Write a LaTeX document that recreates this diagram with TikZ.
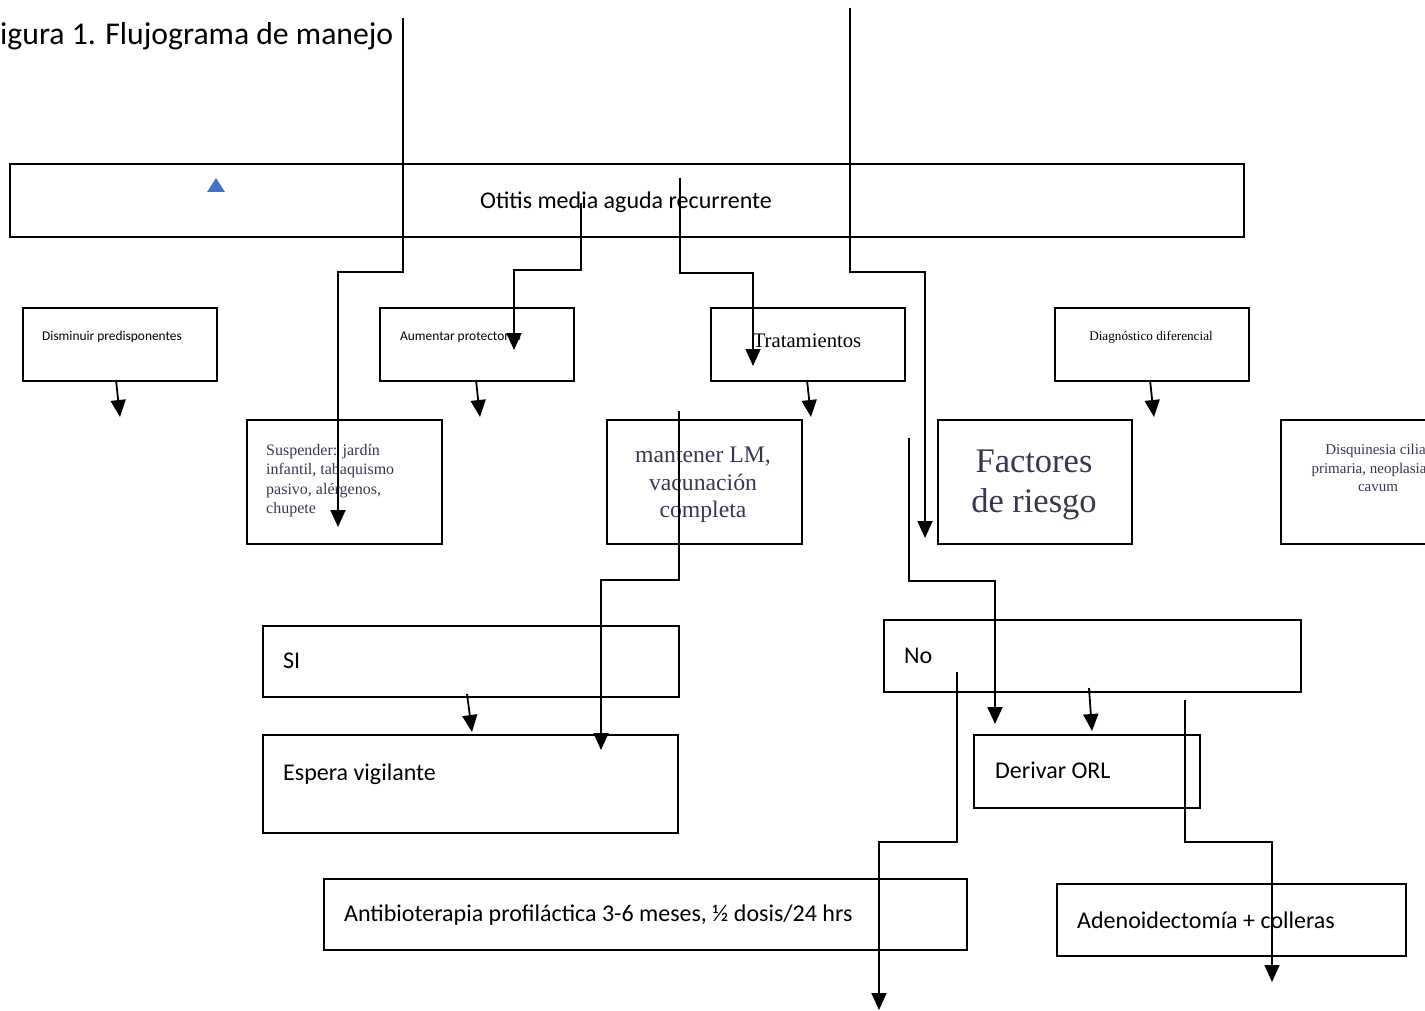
\documentclass[tikz,border=0pt]{standalone}
\usepackage{fontspec}
\setmainfont{Liberation Serif}
\newfontfamily\calfont{Carlito}
\usetikzlibrary{arrows.meta}
\definecolor{tx}{RGB}{62,52,82}
\definecolor{tri}{RGB}{68,114,196}
\newcommand\bx[5]{\node[box, minimum width={#4-#2}, minimum height={#5-#3}] (#1) at (#2,#3) {};}
\newcommand\fs[1]{\fontsize{#1}{#1}\selectfont}
\begin{document}
\begin{tikzpicture}[x=1pt,y=-1pt,
  box/.style={draw, line width=1.8pt, inner sep=0pt, anchor=north west},
  ctx/.style={inner sep=0pt, anchor=base west, font=\calfont\fs{24}},
  ttx/.style={inner sep=0pt, text=tx},
  arr/.style={line width=1.8pt, -{Triangle[width=15pt,length=17pt]}},
  ln/.style={line width=1.8pt}]
\useasboundingbox (0,0) rectangle (1425,1011);
% boxes
\bx{main}{9}{163}{1243}{236}
\bx{dism}{22}{307}{216}{380}
\bx{aum}{379}{307}{573}{380}
\bx{trat}{710}{307}{904}{380}
\bx{diag}{1054}{307}{1248}{380}
\bx{susp}{246}{419}{441}{543}
\bx{mant}{606}{419}{801}{543}
\bx{fact}{937}{419}{1131}{543}
\bx{disq}{1280}{419}{1475}{543}
\bx{si}{262}{625}{678}{696}
\bx{esp}{262}{734}{677}{832}
\bx{no}{883}{619}{1300}{691}
\bx{der}{973}{734}{1199}{807}
\bx{anti}{323}{878}{966}{949}
\bx{adeno}{1056}{883}{1405}{955}
% texts
\node[ctx, font=\calfont\fs{31.7}] (title) at (0,45) {igura 1. Flujograma de manejo};
\node[ctx, anchor=base] (tmain) at (626,209) {Otitis media aguda recurrente};
\fill[tri] (207,192) -- (225,192) -- (216,178) -- cycle;
\node[ctx, font=\calfont\fs{13.4}] (tdism) at (42,340) {Disminuir predisponentes};
\node[ctx, font=\calfont\fs{13.4}] (taum) at (400,340) {Aumentar protectores};
\node[inner sep=0pt, anchor=base, font=\fs{20.7}] (ttrat) at (807,347) {Tratamientos};
\node[inner sep=0pt, anchor=base, font=\fs{13.2}] (tdiag) at (1151,340) {Diagnóstico diferencial};
\node[ttx, anchor=north west, align=left, font=\fontsize{16}{19.5}\selectfont] (tsusp) at (266,444) {Suspender: jardín\\infantil, tabaquismo\\pasivo, alérgenos,\\chupete};
\node[ttx, anchor=north, align=center, font=\fontsize{23.7}{27.5}\selectfont] (tmant) at (703,447) {mantener LM,\\vacunación\\completa};
\node[ttx, anchor=north, align=center, font=\fontsize{34.5}{39.5}\selectfont] (tfact) at (1034,450) {Factores\\de riesgo};
\node[ttx, anchor=north, align=center, font=\fontsize{15}{18.5}\selectfont] (tdisq) at (1378,444) {Disquinesia ciliar\\primaria, neoplasia\hphantom{ de}\\cavum};
\node[ctx] (tsi) at (283,668) {SI};
\node[ctx] (tesp) at (283,780) {Espera vigilante};
\node[ctx] (tno) at (904,663) {No};
\node[ctx] (tder) at (995,778) {Derivar ORL};
\node[ctx] (tanti) at (344,921) {Antibioterapia profiláctica 3-6 meses, ½ dosis/24 hrs};
\node[ctx] (tadeno) at (1077,928) {Adenoidectomía + colleras};
% connector coordinates
\coordinate (a1s) at (403,18);  \coordinate (a1m) at (338,272); \coordinate (a1e) at (338,527);
\coordinate (a2s) at (581,203); \coordinate (a2m) at (514,270); \coordinate (a2e) at (514,350);
\coordinate (a3s) at (680,178); \coordinate (a3m) at (753,273); \coordinate (a3e) at (753,366);
\coordinate (a4s) at (850,8);   \coordinate (a4m) at (925,272); \coordinate (a4e) at (925,538);
\coordinate (a5s) at (116,380); \coordinate (a5e) at (120,417);
\coordinate (a6s) at (476,380); \coordinate (a6e) at (480,417);
\coordinate (a7s) at (807,380); \coordinate (a7e) at (811,417);
\coordinate (a8s) at (1150,380); \coordinate (a8e) at (1154,417);
\coordinate (a9s) at (679,411); \coordinate (a9m) at (601,580); \coordinate (a9e) at (601,750);
\coordinate (a10s) at (467,694); \coordinate (a10e) at (472,732);
\coordinate (a11s) at (909,438); \coordinate (a11m) at (995,581); \coordinate (a11e) at (995,724);
\coordinate (a12s) at (1089,688); \coordinate (a12e) at (1092,731);
\coordinate (a13s) at (957,672); \coordinate (a13m) at (879,842); \coordinate (a13e) at (879,1010);
\coordinate (a14s) at (1185,700); \coordinate (a14m) at (1272,842); \coordinate (a14e) at (1272,982);
% connectors
\draw[arr] (a1s) |- (a1m) -- (a1e);
\draw[arr] (a2s) |- (a2m) -- (a2e);
\draw[arr] (a3s) |- (a3m) -- (a3e);
\draw[arr] (a4s) |- (a4m) -- (a4e);
\draw[arr] (a5s) -- (a5e);
\draw[arr] (a6s) -- (a6e);
\draw[arr] (a7s) -- (a7e);
\draw[arr] (a8s) -- (a8e);
\draw[arr] (a9s) |- (a9m) -- (a9e);
\draw[arr] (a10s) -- (a10e);
\draw[arr] (a11s) |- (a11m) -- (a11e);
\draw[arr] (a12s) -- (a12e);
\draw[arr] (a13s) |- (a13m) -- (a13e);
\draw[arr] (a14s) |- (a14m) -- (a14e);
\end{tikzpicture}
\end{document}
